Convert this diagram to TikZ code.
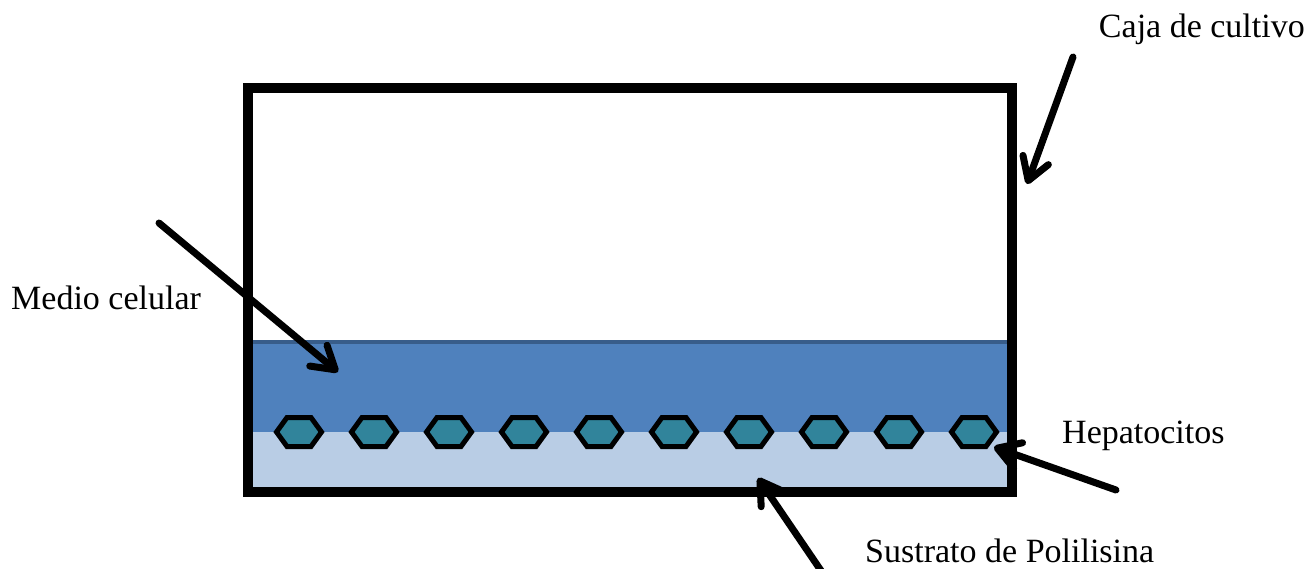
\documentclass[tikz,border=0pt]{standalone}
\usepackage{fontspec}
\setmainfont{Liberation Serif}
\usetikzlibrary{arrows.meta}
\definecolor{medium}{HTML}{4F81BD}
\definecolor{mediumedge}{HTML}{385D8A}
\definecolor{substrate}{HTML}{B9CDE5}
\definecolor{cell}{HTML}{31849B}

\begin{document}
\begin{tikzpicture}[x=1pt,y=-1pt,
  labeltext/.style={font=\fontsize{34}{40}\selectfont, inner sep=0pt, anchor=base west},
  pointer/.style={line width=7pt, line cap=round, line join=round,
    -{Straight Barb[length=22pt,width=27pt,line cap=round,line join=round]}},
  cellshape/.style={draw=black, fill=cell, line width=5pt, line join=miter},
  dish/.style={draw=black, line width=10pt, line join=miter}]
\useasboundingbox (0,0) rectangle (1310,568);
\clip (0,0) rectangle (1310,568);

% culture medium and polylysine coating
\fill[medium] (253,342) rectangle (1007,432);
\draw[mediumedge, line width=4pt] (253,342) -- (1007,342);
\fill[substrate] (253,432) rectangle (1007,487);

% row of hepatocytes
\foreach \cx [count=\i] in {299,374,449,524,599,674,749,824,899,974} {
  \draw[cellshape, shift={(\cx,432)}]
    (-22.5,0) -- (-12,-14.5) -- (12,-14.5) -- (22.5,0) -- (12,14.5) -- (-12,14.5) -- cycle;
  \coordinate (cell\i) at (\cx,432);
}

% culture dish walls
\draw[dish] (248,88) rectangle (1012,492);

% labels
\node[labeltext, anchor=base east] (caja) at (1305,37) {Caja de cultivo};
\node[labeltext] (medio) at (11,309) {Medio celular};
\node[labeltext] (hepa) at (1062,443) {Hepatocitos};
\node[labeltext] (sustrato) at (865,562) {Sustrato de Polilisina};

% pointer ends
\coordinate (cajaTail) at (1073,57);
\coordinate (cajaTip) at (1027,184);
\coordinate (medioTail) at (159,223);
\coordinate (medioTip) at (338,372);
\coordinate (hepaTail) at (1116,490);
\coordinate (hepaTip) at (994,447);
\coordinate (sustTail) at (826,578);
\coordinate (sustTip) at (758,478);

\draw[pointer] (cajaTail) -- (cajaTip);
\draw[pointer] (medioTail) -- (medioTip);
\draw[pointer] (hepaTail) -- (hepaTip);
\draw[pointer] (sustTail) -- (sustTip);
\end{tikzpicture}
\end{document}
